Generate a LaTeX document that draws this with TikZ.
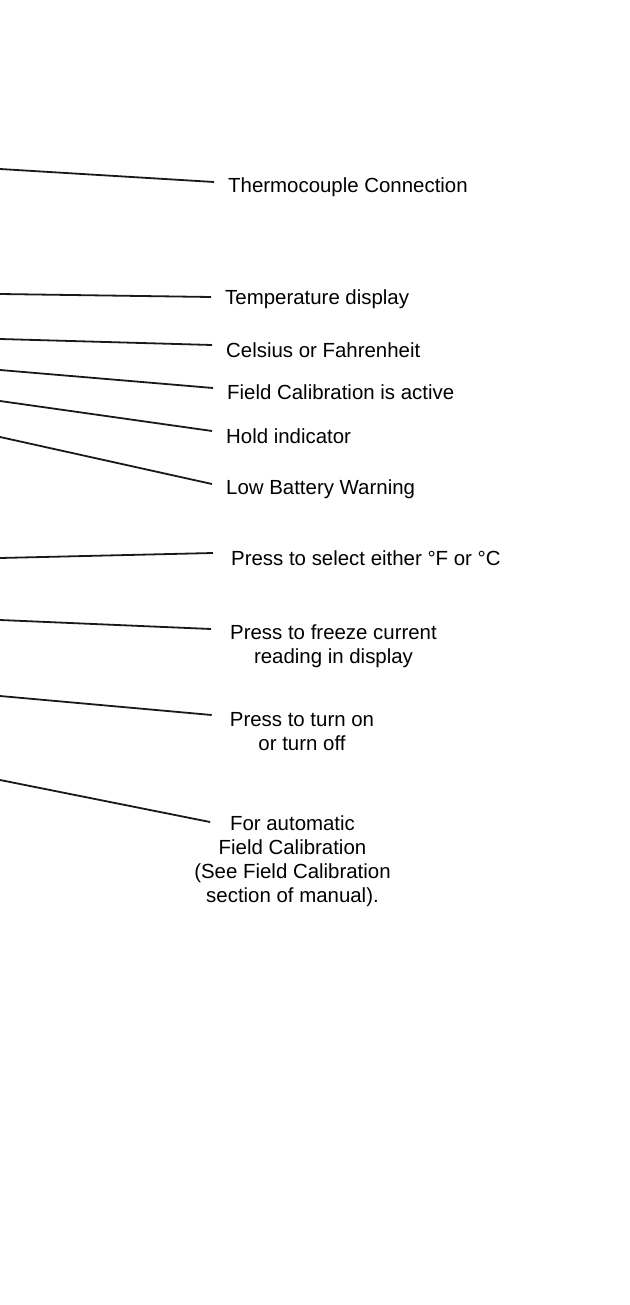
\documentclass[tikz,border=0pt]{standalone}
\usepackage{fontspec}
\setmainfont{Liberation Sans}
\usetikzlibrary{positioning}

\begin{document}
\begin{tikzpicture}[
  x=1bp, y=-1bp,
  font=\fontsize{20.5}{24}\selectfont,
  lbl/.style={anchor=west, inner xsep=14bp, inner ysep=0pt},
  multi/.style={align=center, inner xsep=14bp, inner ysep=0pt},
  lead/.style={line width=1.8bp, black!90},
]
\useasboundingbox (0,0) rectangle (630,1305);
% ---- free ends at the left edge ----
\coordinate (s1) at (0,169);
\coordinate (s2) at (0,294);
\coordinate (s3) at (0,339);
\coordinate (s4) at (0,370);
\coordinate (s5) at (0,401);
\coordinate (s6) at (0,437);
\coordinate (s7) at (0,558);
\coordinate (s8) at (0,620);
\coordinate (s9) at (0,696);
\coordinate (s10) at (0,780);
% ---- display labels ----
\node[lbl] (thermo) at (214,187) {Thermocouple Connection};
\node[lbl] (temp) at (211,299) {Temperature display};
\node[lbl] (unit) at (212,350) {Celsius or Fahrenheit};
\node[lbl] (cal) at (213,392) {Field Calibration is active};
\node[lbl] (hold) at (212,436) {Hold indicator};
\node[lbl] (batt) at (212,489) {Low Battery Warning};
% ---- button labels ----
\node[lbl] (sel) at (217,558) {Press to select either °F or °C};
\node[multi] (freeze) at (333.5,646) {Press to freeze current\\reading in display};
\node[multi] (power) at (302,731.5) {Press to turn on\\or turn off};
\node[multi] (auto) at (292.5,861.5) {For automatic\\Field Calibration\\(See Field Calibration\\section of manual).};
% ---- leaders ----
\draw[lead] (s1) -- ([yshift=5bp]thermo.west);
\draw[lead] (s2) -- ([yshift=2bp]temp.west);
\draw[lead] (s3) -- ([yshift=5bp]unit.west);
\draw[lead] (s4) -- ([yshift=4bp]cal.west);
\draw[lead] (s5) -- ([yshift=5bp]hold.west);
\draw[lead] (s6) -- ([yshift=5bp]batt.west);
\draw[lead] (s7) -- ([xshift=-4bp, yshift=5bp]sel.west);
\draw[lead] (s8) -- ([xshift=-5bp, yshift=17bp]freeze.west);
\draw[lead] (s9) -- ([xshift=-4bp, yshift=16.5bp]power.west);
\draw[lead] (s10) -- ([xshift=30bp, yshift=39.5bp]auto.west);
\end{tikzpicture}
\end{document}
